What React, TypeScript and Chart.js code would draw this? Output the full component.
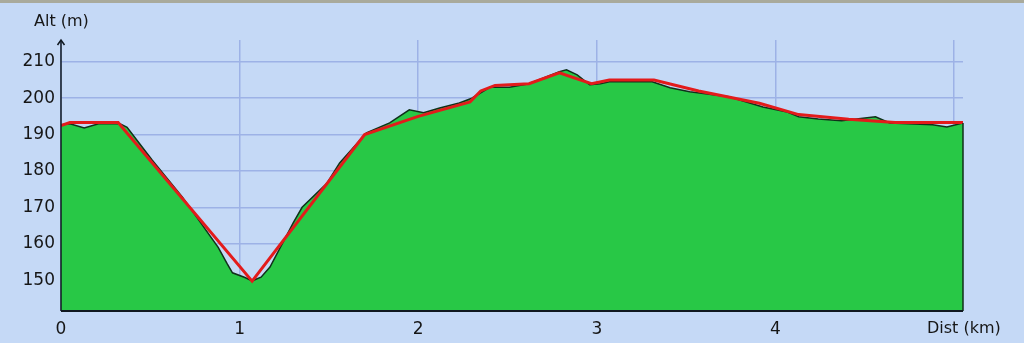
import React, { useEffect, useRef } from "react";
import { Chart, registerables } from "chart.js";

Chart.register(...registerables);

// Elevation profile (black outline, green fill)
const profileDist = [0.0, 0.05, 0.13, 0.21, 0.33, 0.37, 0.51, 0.68, 0.88, 0.93, 0.96, 1.03, 1.07, 1.12, 1.17, 1.3, 1.35, 1.49, 1.56, 1.71, 1.84, 1.95, 2.03, 2.12, 2.23, 2.3, 2.4, 2.51, 2.62, 2.79, 2.83, 2.89, 2.96, 3.02, 3.07, 3.17, 3.31, 3.41, 3.52, 3.74, 3.93, 4.06, 4.13, 4.24, 4.37, 4.56, 4.64, 4.88, 4.96, 5.05];
const profileAlt = [192.7, 193.0, 191.8, 193.0, 193.0, 192.0, 183.0, 172.8, 159.0, 154.5, 152.0, 150.7, 149.8, 150.8, 153.6, 165.7, 170.0, 176.7, 182.2, 190.5, 193.2, 196.8, 196.0, 197.3, 198.7, 200.0, 203.0, 203.0, 204.0, 207.3, 207.8, 206.4, 203.7, 204.0, 204.5, 204.5, 204.5, 202.9, 201.8, 200.4, 197.6, 196.3, 194.9, 194.3, 193.8, 194.9, 193.2, 192.7, 192.1, 193.2];

// Simplified profile (red line)
const trendDist = [0.0, 0.05, 0.32, 1.07, 1.7, 2.0, 2.29, 2.35, 2.43, 2.62, 2.79, 2.97, 3.07, 3.32, 3.57, 3.91, 4.13, 4.41, 4.67, 5.05];
const trendAlt = [192.5, 193.3, 193.3, 149.7, 190.0, 195.0, 199.0, 202.0, 203.5, 204.0, 207.0, 204.0, 205.0, 205.0, 202.0, 198.6, 195.5, 194.2, 193.3, 193.3];

const xTickValues = [0, 1, 2, 3, 4, 5];
const xTickLabels = ["0", "1", "2", "3", "4", ""];
const yTickValues = [150, 160, 170, 180, 190, 200, 210];

const yAxisTitle = "Alt (m)";
const xAxisTitle = "Dist (km)";

const BG = "#c5d9f6";
const GRID = "#9db2e6";
const FONT = "'DejaVu Sans', sans-serif";
const TEXT = "#161616";

const decorPlugin = {
  id: "decor",
  beforeDraw(chart: any) {
    const { ctx, width } = chart;
    ctx.save();
    ctx.fillStyle = BG;
    ctx.fillRect(0, 0, width, chart.height);
    ctx.fillStyle = "#a9aa9c";
    ctx.fillRect(0, 0, width, 3);
    ctx.restore();
  },
  afterDraw(chart: any) {
    const { ctx, chartArea } = chart;
    const xs = chart.scales.x;
    const ys = chart.scales.y;
    ctx.save();
    // right closing edge of profile
    const lx = xs.getPixelForValue(profileDist[profileDist.length - 1]);
    const ly = ys.getPixelForValue(profileAlt[profileAlt.length - 1]);
    ctx.strokeStyle = "#10301a";
    ctx.lineWidth = 1.5;
    ctx.beginPath();
    ctx.moveTo(lx, ly);
    ctx.lineTo(lx, chartArea.bottom);
    ctx.stroke();
    // axes
    ctx.strokeStyle = "#101820";
    ctx.lineWidth = 2;
    ctx.beginPath();
    ctx.moveTo(chartArea.left, chartArea.bottom);
    ctx.lineTo(lx, chartArea.bottom);
    ctx.stroke();
    ctx.lineWidth = 1.5;
    ctx.beginPath();
    ctx.moveTo(chartArea.left, chartArea.bottom);
    ctx.lineTo(chartArea.left, chartArea.top);
    ctx.stroke();
    // arrow head
    ctx.beginPath();
    ctx.moveTo(chartArea.left - 3.5, chartArea.top + 5);
    ctx.lineTo(chartArea.left, chartArea.top);
    ctx.lineTo(chartArea.left + 3.5, chartArea.top + 5);
    ctx.stroke();
    // titles
    ctx.fillStyle = TEXT;
    ctx.font = `16px ${FONT}`;
    ctx.textBaseline = "middle";
    ctx.textAlign = "left";
    ctx.fillText(yAxisTitle, 34, 22);
    ctx.fillText(xAxisTitle, 927, 329);
    ctx.restore();
  },
};

export default function App() {
  const ref = useRef<HTMLCanvasElement | null>(null);
  useEffect(() => {
    document.body.style.margin = "0";
    const canvas = ref.current!;
    const chart = new Chart(canvas, {
      type: "line",
      data: {
        datasets: [
          {
            label: "trend",
            data: trendDist.map((d, i) => ({ x: d, y: trendAlt[i] })),
            borderColor: "#e31b1b",
            borderWidth: 3,
            pointRadius: 0,
            tension: 0,
            fill: false,
            order: 0,
          },
          {
            label: "profile",
            data: profileDist.map((d, i) => ({ x: d, y: profileAlt[i] })),
            borderColor: "#10301a",
            borderWidth: 1.5,
            backgroundColor: "#28c846",
            pointRadius: 0,
            tension: 0,
            fill: "start",
            order: 1,
          },
        ],
      },
      options: {
        animation: false,
        responsive: false,
        maintainAspectRatio: false,
        layout: { padding: { left: 0, right: 61, top: 40, bottom: 0 } },
        plugins: { legend: { display: false }, tooltip: { enabled: false } },
        scales: {
          x: {
            type: "linear",
            min: 0,
            max: 5.05,
            afterBuildTicks: (s: any) => {
              s.ticks = xTickValues.map((v) => ({ value: v }));
            },
            afterFit: (s: any) => {
              s.height = 32;
            },
            grid: { color: GRID, lineWidth: 1.5, drawTicks: false },
            border: { display: false },
            ticks: {
              padding: 8,
              maxRotation: 0,
              autoSkip: false,
              color: TEXT,
              font: { family: FONT, size: 17 },
              callback: (v: any, i: number) => xTickLabels[i],
            },
          },
          y: {
            type: "linear",
            min: 141.5,
            max: 216,
            afterBuildTicks: (s: any) => {
              s.ticks = yTickValues.map((v) => ({ value: v }));
            },
            afterFit: (s: any) => {
              s.width = 61;
            },
            grid: { color: GRID, lineWidth: 1.5, drawTicks: false },
            border: { display: false },
            ticks: {
              padding: 6,
              autoSkip: false,
              color: TEXT,
              font: { family: FONT, size: 17 },
              callback: (v: any) => String(v),
            },
          },
        },
      },
      plugins: [decorPlugin],
    });
    return () => chart.destroy();
  }, []);
  return (
    <div style={{ width: 1024, height: 343, background: BG }}>
      <canvas ref={ref} width={1024} height={343} style={{ display: "block" }} />
    </div>
  );
}
